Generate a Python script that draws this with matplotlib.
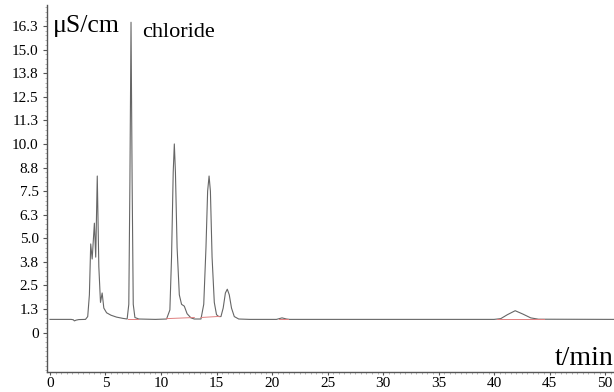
import matplotlib
matplotlib.use("Agg")
import matplotlib.pyplot as plt
from matplotlib.ticker import FixedLocator, MultipleLocator

# Chromatogram trace (time in min, conductivity in uS/cm)
time_min = [0.0, 1.9, 2.1, 2.2, 2.35, 2.6, 3.2, 3.4, 3.55, 3.67, 3.8, 4.0, 4.12, 4.26,
            4.4, 4.55, 4.7, 4.85, 5.1, 5.5, 6.0, 6.6, 6.95, 7.1, 7.2, 7.3, 7.4, 7.5,
            7.65, 8.0, 9.5, 10.5, 10.8, 10.95, 11.1, 11.2, 11.3, 11.45, 11.65, 11.85,
            12.1, 12.35, 12.7, 13.0, 13.6, 13.85, 14.05, 14.2, 14.33, 14.45, 14.6, 14.8,
            15.0, 15.2, 15.4, 15.6, 15.8, 15.97, 16.15, 16.35, 16.6, 17.0, 18.0, 20.4,
            20.9, 21.3, 21.6, 30.0, 40.0, 40.6, 41.2, 41.9, 42.6, 43.3, 44.0, 50.8]
signal_uS = [0.70, 0.70, 0.68, 0.62, 0.66, 0.69, 0.70, 0.85, 2.0, 4.7, 3.9, 5.8, 4.0, 8.3,
             3.5, 1.6, 2.1, 1.3, 1.05, 0.92, 0.82, 0.75, 0.72, 1.5, 8.0, 16.45, 8.0, 1.5,
             0.8, 0.72, 0.70, 0.72, 1.2, 4.0, 8.5, 10.0, 8.5, 4.5, 2.0, 1.5,
             1.4, 1.0, 0.78, 0.72, 0.72, 1.5, 4.5, 7.5, 8.3, 7.5, 4.0, 1.6,
             0.95, 0.85, 0.85, 1.3, 2.1, 2.3, 2.0, 1.3, 0.85, 0.72, 0.70, 0.70,
             0.78, 0.72, 0.70, 0.70, 0.70, 0.74, 0.95, 1.16, 0.98, 0.78, 0.71, 0.70]

# Integration baselines (red)
red_t0 = [7.0, 10.5, 13.6, 20.6, 40.3]
red_t1 = [7.9, 13.0, 15.3, 21.4, 44.5]
red_y0 = [0.74, 0.74, 0.80, 0.72, 0.70]
red_y1 = [0.74, 0.80, 0.86, 0.72, 0.70]

y_tick_vals = [0, 1.25, 2.5, 3.75, 5.0, 6.25, 7.5, 8.75, 10.0, 11.25, 12.5, 13.75, 15.0, 16.25]
y_tick_labels = ["0", "1.3", "2.5", "3.8", "5.0", "6.3", "7.5", "8.8", "10.0", "11.3",
                 "12.5", "13.8", "15.0", "16.3"]
x_tick_vals = [0, 5, 10, 15, 20, 25, 30, 35, 40, 45, 50]

serif = ["Liberation Serif", "DejaVu Serif"]
plt.rcParams["font.family"] = serif

fig = plt.figure(figsize=(6.14, 3.92), dpi=100)
ax = fig.add_axes([0.0765, 0.050, 0.9235, 0.937])

ax.plot(time_min, signal_uS, color="#666666", lw=0.8)
for a, b, c, d in zip(red_t0, red_t1, red_y0, red_y1):
    ax.plot([a, b], [c, d], color="#e08080", lw=0.7)

ax.set_xlim(-0.27, 50.8)
ax.set_ylim(-2.11, 17.36)

ax.yaxis.set_major_locator(FixedLocator(y_tick_vals))
ax.set_yticklabels(y_tick_labels)
ax.yaxis.set_minor_locator(MultipleLocator(0.25))
ax.xaxis.set_major_locator(FixedLocator(x_tick_vals))
ax.set_xticklabels([str(v) for v in x_tick_vals])
ax.xaxis.set_minor_locator(MultipleLocator(0.5))

for s in ["top", "right"]:
    ax.spines[s].set_visible(False)
for s in ["left", "bottom"]:
    ax.spines[s].set_color("#555555")
    ax.spines[s].set_linewidth(1.0)

ax.tick_params(axis="y", which="major", direction="out", length=3, width=0.8,
               color="#555555", labelsize=11, pad=3)
ax.tick_params(axis="y", which="minor", direction="out", length=1.5, width=0.5, color="#999999")
ax.tick_params(axis="x", which="major", direction="out", length=2.5, width=0.8,
               color="#555555", labelsize=11, pad=1)
ax.tick_params(axis="x", which="minor", direction="out", length=1.5, width=0.5, color="#999999")

ax.text(0.3, 16.25, "μS/cm", fontsize=18.5, va="center", ha="left")
ax.text(8.3, 15.9, "chloride", fontsize=16, va="center", ha="left")
ax.text(50.75, -1.74, "t/min", fontsize=20, va="baseline", ha="right")

fig.savefig("out.png", dpi=100)
